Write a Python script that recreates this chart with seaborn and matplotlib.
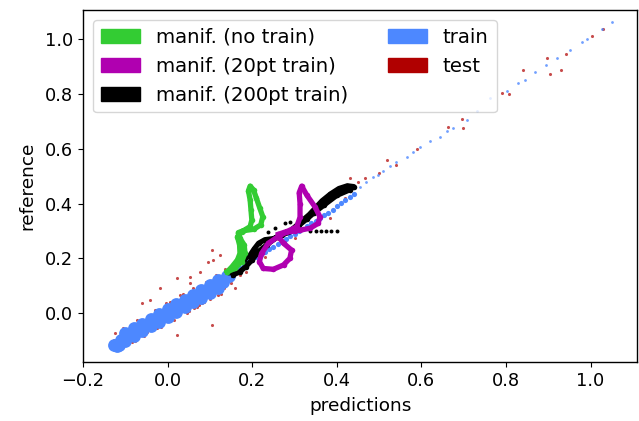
import numpy as np
import matplotlib
matplotlib.use("Agg")
import matplotlib.pyplot as plt
from matplotlib.patches import Patch
import seaborn as sns

# train cloud: dense part (three staggered rows along the band)
train_core_x = [-0.127, -0.115,
                -0.12, -0.10, -0.08, -0.06, -0.04, -0.02, 0.00, 0.02, 0.04, 0.06, 0.08, 0.10, 0.12,
                -0.11, -0.09, -0.07, -0.05, -0.03, -0.01, 0.01, 0.03, 0.05, 0.07, 0.09, 0.11, 0.13, 0.145,
                -0.10, -0.08, -0.06, -0.04, -0.02, 0.00, 0.02, 0.04, 0.06, 0.08, 0.10, 0.12, 0.14]
train_core_y = [-0.118, -0.115,
                -0.120, -0.102, -0.084, -0.067, -0.049, -0.032, -0.014, 0.004, 0.021, 0.039, 0.056, 0.074, 0.092,
                -0.097, -0.079, -0.062, -0.044, -0.026, -0.009, 0.009, 0.026, 0.044, 0.062, 0.079, 0.097, 0.114, 0.135,
                -0.074, -0.056, -0.039, -0.021, -0.004, 0.014, 0.032, 0.049, 0.067, 0.084, 0.102, 0.120, 0.137]

# train: thinner middle part
train_mid_x = [0.15, 0.16, 0.17, 0.18, 0.19, 0.20, 0.21, 0.22, 0.23, 0.24, 0.25, 0.26, 0.27, 0.28, 0.29,
               0.30, 0.31, 0.32, 0.33, 0.34, 0.35, 0.36, 0.37, 0.38, 0.39, 0.40, 0.41, 0.42, 0.43, 0.44]
train_mid_y = [0.147, 0.157, 0.166, 0.176, 0.185, 0.195, 0.204, 0.214, 0.223, 0.233, 0.242, 0.252, 0.261,
               0.271, 0.280, 0.290, 0.299, 0.309, 0.318, 0.328, 0.337, 0.347, 0.357, 0.367, 0.378, 0.390,
               0.401, 0.412, 0.423, 0.434]

# train: sparse upper tail
train_tail_x = [0.455, 0.470, 0.486, 0.498, 0.510, 0.525, 0.541, 0.565, 0.580, 0.597, 0.620, 0.644, 0.660,
                0.675, 0.707, 0.731, 0.762, 0.802, 0.829, 0.845, 0.869, 0.895, 0.920, 0.951, 0.979, 0.991,
                1.026, 1.050]
train_tail_y = [0.462, 0.480, 0.496, 0.506, 0.520, 0.536, 0.553, 0.572, 0.590, 0.606, 0.627, 0.645, 0.664,
                0.675, 0.706, 0.740, 0.785, 0.812, 0.840, 0.852, 0.882, 0.907, 0.931, 0.962, 0.992, 1.002,
                1.038, 1.063]

# test points
test_x = [0.104, 0.124, 0.108, 0.021, 0.053, -0.042, 0.104, 0.021, -0.124, 0.159, 0.148, -0.105,
          -0.061, -0.018, 0.077, 0.069, -0.010, -0.026, -0.073, 0.045, 0.096, 0.053,
          0.431, 0.384, 0.329, 0.519, 0.467, 0.664, 0.699, 0.695, 0.589,
          0.841, 0.896, 0.905, 0.929, 0.942, 1.003, 1.030, 0.790, 0.808,
          -0.115, -0.095, -0.085, -0.065, -0.055, -0.030, -0.015, 0.005, 0.015, 0.030,
          0.045, 0.060, 0.075, 0.090, 0.100, 0.115, 0.125, 0.135, 0.150, 0.160,
          0.185, 0.200, 0.230, 0.260, 0.300, 0.330, 0.420, 0.450, 0.500, 0.540, 0.041,
          -0.128, -0.120, -0.108, -0.098, -0.088, -0.078, -0.068, -0.048, -0.035, -0.022,
          -0.005, 0.010, 0.035, 0.050, 0.065, 0.085, 0.110, 0.128, 0.140, 0.170,
          0.062, 0.082, 0.094, 0.118, 0.133, 0.012, -0.004, 0.028, 0.036, 0.070]
test_y = [0.230, 0.212, 0.194, 0.127, 0.109, 0.048, -0.044, -0.080, -0.074, 0.090, 0.121, -0.056,
          0.035, 0.090, 0.151, 0.078, -0.001, -0.056, -0.026, 0.011, 0.188, 0.133,
          0.493, 0.346, 0.310, 0.559, 0.493, 0.681, 0.675, 0.708, 0.598,
          0.888, 0.931, 0.873, 0.888, 0.946, 1.014, 1.038, 0.803, 0.800,
          -0.090, -0.060, -0.105, -0.030, -0.085, 0.010, -0.050, 0.040, -0.025, 0.065,
          0.000, 0.090, 0.030, 0.115, 0.050, 0.140, 0.070, 0.160, 0.110, 0.175,
          0.150, 0.215, 0.205, 0.270, 0.275, 0.350, 0.420, 0.480, 0.510, 0.540, 0.011,
          -0.100, -0.128, -0.070, -0.118, -0.058, -0.102, -0.045, -0.068, -0.008, -0.042,
          0.022, -0.018, 0.050, 0.008, 0.082, 0.040, 0.128, 0.085, 0.150, 0.140,
          0.020, 0.038, 0.108, 0.065, 0.090, -0.010, 0.035, 0.004, 0.070, 0.024]

# manifold curves
green_x = [0.141, 0.159, 0.175, 0.183, 0.181, 0.171, 0.167, 0.179, 0.203, 0.220, 0.225, 0.218, 0.210,
           0.203, 0.195, 0.191, 0.195, 0.197, 0.199, 0.195, 0.175, 0.165, 0.170, 0.171, 0.165, 0.152, 0.141]
green_y = [0.151, 0.163, 0.188, 0.218, 0.249, 0.273, 0.294, 0.301, 0.306, 0.322, 0.352, 0.383, 0.419,
           0.450, 0.464, 0.447, 0.413, 0.377, 0.340, 0.316, 0.297, 0.279, 0.249, 0.218, 0.194, 0.169, 0.151]

magenta_x = [0.262, 0.238, 0.222, 0.217, 0.226, 0.250, 0.274, 0.289, 0.293, 0.274, 0.262, 0.280, 0.300,
             0.313, 0.337, 0.356, 0.360, 0.348, 0.329, 0.317, 0.311, 0.313, 0.313, 0.305, 0.285, 0.262]
magenta_y = [0.280, 0.255, 0.218, 0.188, 0.163, 0.160, 0.176, 0.200, 0.230, 0.255, 0.280, 0.295, 0.300,
             0.303, 0.310, 0.328, 0.352, 0.389, 0.431, 0.464, 0.440, 0.400, 0.350, 0.315, 0.300, 0.288]

black_x = [0.145, 0.155, 0.165, 0.180, 0.195, 0.205, 0.215, 0.230, 0.250, 0.270, 0.290, 0.305, 0.320,
           0.335, 0.350, 0.365, 0.385, 0.405, 0.425, 0.440, 0.430, 0.400, 0.370, 0.345, 0.330, 0.310,
           0.285, 0.260, 0.235, 0.215, 0.200, 0.185, 0.170, 0.155]
black_y = [0.150, 0.165, 0.180, 0.195, 0.212, 0.235, 0.255, 0.268, 0.272, 0.285, 0.300, 0.320, 0.340,
           0.360, 0.385, 0.410, 0.435, 0.455, 0.465, 0.462, 0.450, 0.430, 0.395, 0.365, 0.345, 0.320,
           0.295, 0.280, 0.250, 0.225, 0.195, 0.170, 0.150, 0.140]
black_dots_x = [0.238, 0.254, 0.278, 0.289, 0.337, 0.350, 0.362, 0.375, 0.387, 0.400]
black_dots_y = [0.297, 0.310, 0.328, 0.334, 0.301, 0.301, 0.301, 0.301, 0.301, 0.301]

labels = ["manif. (no train)", "manif. (20pt train)", "manif. (200pt train)", "train", "test"]
c_green = "#33cc33"
c_magenta = "#b000b0"
c_black = "#000000"
c_train = "#4d88ff"
c_test = "#b00000"

plt.rcParams["font.size"] = 12.8
plt.rcParams["axes.linewidth"] = 1.0

fig, ax = plt.subplots(figsize=(6.39, 4.21), dpi=100)
fig.subplots_adjust(left=0.13, right=0.997, bottom=0.14, top=0.976)

sns.scatterplot(x=test_x, y=test_y, color=c_test, s=5, linewidth=0, alpha=0.7, ax=ax)
sns.scatterplot(x=train_core_x, y=train_core_y, color=c_train, s=85, linewidth=0, ax=ax)
sns.scatterplot(x=train_mid_x, y=train_mid_y, color=c_train, s=14, linewidth=0, ax=ax)
sns.scatterplot(x=train_tail_x, y=train_tail_y, color=c_train, s=4, linewidth=0, alpha=0.8, ax=ax)

sns.lineplot(x=black_x, y=black_y, sort=False, estimator=None, color=c_black, lw=3.8,
             marker="o", markersize=4, markeredgewidth=0, ax=ax)
sns.scatterplot(x=black_dots_x, y=black_dots_y, color=c_black, s=8, linewidth=0, ax=ax)
sns.lineplot(x=magenta_x, y=magenta_y, sort=False, estimator=None, color=c_magenta, lw=3.8,
             marker="o", markersize=4, markeredgewidth=0, ax=ax)
sns.lineplot(x=green_x, y=green_y, sort=False, estimator=None, color=c_green, lw=3.8,
             marker="o", markersize=4, markeredgewidth=0, ax=ax)

ax.set_xlim(-0.2, 1.11)
ax.set_ylim(-0.179, 1.107)
ax.set_xlabel("predictions", fontsize=13.3, labelpad=5)
ax.set_ylabel("reference", fontsize=13.3, labelpad=6)

handles = [Patch(color=c) for c in [c_green, c_magenta, c_black, c_train, c_test]]
ax.legend(handles, labels, ncol=2, loc="upper left", fontsize=14.2, labelspacing=0.5)

fig.savefig("out.png", dpi=100)
